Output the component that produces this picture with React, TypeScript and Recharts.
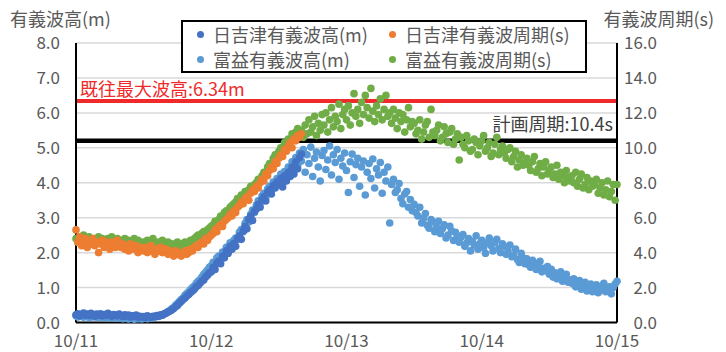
import React from "react";
import {
  ScatterChart,
  Scatter,
  XAxis,
  YAxis,
  CartesianGrid,
  ReferenceLine,
} from "recharts";

// 観測値 (20分間隔, 10/11 0時起点の経過時間 h)
const STEP_H = 1 / 3;

// 日吉津 有義波高 (m)  10/11 0:00 〜 10/12 16:00
const hiyoshizuHeight = [
  0.22, 0.25, 0.19, 0.23, 0.27, 0.21, 0.24, 0.2, 0.26, 0.22, 0.18, 0.24,
  0.21, 0.25, 0.19, 0.23, 0.2, 0.26, 0.22, 0.18, 0.23, 0.21, 0.19, 0.24,
  0.2, 0.17, 0.22, 0.18, 0.21, 0.16, 0.19, 0.17, 0.21, 0.15, 0.18, 0.16,
  0.17, 0.14, 0.19, 0.16, 0.15, 0.18, 0.17, 0.2, 0.18, 0.22, 0.21, 0.25,
  0.27, 0.3, 0.33, 0.36, 0.4, 0.45, 0.49, 0.55, 0.6, 0.66, 0.7, 0.76,
  0.8, 0.86, 0.9, 0.95, 1.02, 1.06, 1.12, 1.18, 1.22, 1.3, 1.35, 1.42,
  1.45, 1.58, 1.52, 1.7, 1.75, 1.68, 1.9, 1.85, 2.05, 1.98, 2.18, 2.1,
  2.26, 2.18, 2.4, 2.48, 2.38, 2.62, 2.75, 2.68, 2.95, 3.05, 2.92, 3.18,
  3.25, 3.38, 3.3, 3.52, 3.6, 3.48, 3.72, 3.8, 3.68, 3.92, 3.85, 4.02,
  3.96, 4.12, 3.88, 4.2, 4.05, 4.3, 4.18, 4.45, 4.25, 4.6, 4.4, 4.72,
  4.82,
];

// 日吉津 有義波周期 (s)
const hiyoshizuPeriod = [
  5.3, 4.6, 4.9, 4.4, 4.7, 4.8, 4.3, 4.6, 4.5, 4.8, 4.4, 4.6,
  4.0, 4.5, 4.7, 4.3, 4.6, 4.4, 4.2, 4.6, 4.5, 4.3, 4.7, 4.4,
  4.3, 4.5, 4.2, 4.4, 4.1, 4.5, 4.3, 4.2, 4.4, 4.0, 4.3, 4.2,
  4.1, 4.3, 4.0, 4.2, 4.4, 4.1, 3.9, 4.2, 4.1, 4.3, 4.0, 4.1,
  4.2, 3.9, 4.1, 4.0, 3.8, 4.1, 3.9, 4.0, 3.8, 3.9, 4.1, 3.9,
  4.0, 4.2, 4.1, 4.3, 4.4, 4.3, 4.5, 4.6, 4.5, 4.8, 4.7, 4.9,
  5.0, 5.1, 5.3, 5.2, 5.5, 5.6, 5.5, 5.8, 5.9, 6.0, 6.2, 6.1,
  6.4, 6.3, 6.6, 6.7, 6.9, 6.8, 7.1, 7.2, 7.0, 7.4, 7.6, 7.5,
  7.8, 7.7, 8.0, 8.2, 8.1, 8.5, 8.4, 8.7, 8.9, 8.8, 9.2, 9.1,
  9.4, 9.6, 9.5, 9.9, 9.8, 10.1, 10.3, 10.0, 10.5, 10.4, 10.7, 10.6,
  10.8,
];

// 富益 有義波高 (m)  10/11 0:00 〜 10/15 0:00
const tomimasuHeight = [
  0.19, 0.16, 0.21, 0.18, 0.15, 0.2, 0.17, 0.14, 0.19, 0.16, 0.18, 0.15,
  0.17, 0.14, 0.19, 0.15, 0.18, 0.13, 0.16, 0.14, 0.17, 0.12, 0.15, 0.13,
  0.14, 0.11, 0.15, 0.12, 0.1, 0.14, 0.12, 0.09, 0.13, 0.11, 0.14, 0.1,
  0.12, 0.15, 0.11, 0.14, 0.13, 0.16, 0.15, 0.18, 0.17, 0.2, 0.22, 0.24,
  0.27, 0.31, 0.34, 0.39, 0.43, 0.49, 0.54, 0.6, 0.66, 0.7, 0.78, 0.83,
  0.88, 0.94, 1.0, 1.04, 1.12, 1.18, 1.22, 1.3, 1.38, 1.44, 1.5, 1.58,
  1.62, 1.72, 1.68, 1.85, 1.9, 1.84, 2.02, 1.98, 2.15, 2.12, 2.28, 2.22,
  2.35, 2.42, 2.38, 2.58, 2.66, 2.6, 2.84, 2.95, 2.88, 3.1, 3.22, 3.15,
  3.36, 3.48, 3.4, 3.62, 3.7, 3.58, 3.82, 3.9, 3.78, 4.02, 3.95, 4.12,
  4.08, 4.25, 3.98, 4.32, 4.18, 4.45, 4.28, 4.6, 4.38, 4.72, 4.5, 4.85,
  4.62, 4.95, 4.3, 4.8, 4.55, 5.02, 4.18, 4.7, 4.88, 4.45, 4.05, 4.78,
  4.92, 4.38, 4.65, 5.05, 4.22, 4.8, 4.58, 4.95, 4.1, 4.7, 4.48, 4.85,
  4.35, 3.72, 4.6, 4.82, 4.15, 4.52, 4.7, 3.9, 4.45, 4.62, 3.65, 4.3,
  4.55, 4.12, 4.68, 3.85, 4.4, 4.22, 4.58, 3.7, 4.3, 4.05, 4.45, 2.85,
  3.95, 4.1, 3.72, 3.8, 3.98, 3.55, 3.4, 3.68, 3.75, 3.3, 3.52, 3.2,
  3.38, 3.15, 3.05, 3.3, 2.85, 2.98, 3.12, 2.78, 2.7, 2.95, 2.88, 2.6,
  2.72, 2.9, 2.55, 2.68, 2.8, 2.42, 2.5, 2.75, 2.62, 2.35, 2.58, 2.48,
  2.3, 2.45, 2.52, 2.18, 2.28, 2.4, 2.05, 2.32, 2.22, 2.48, 2.1, 2.26,
  2.35, 2.15, 1.98, 2.28, 2.42, 2.2, 2.05, 2.3, 2.38, 2.12, 2.0, 2.25,
  2.18, 1.95, 2.05, 2.22, 1.88, 1.92, 2.1, 1.8, 1.72, 1.98, 1.85, 1.68,
  1.82, 1.65, 1.58, 1.78, 1.7, 1.52, 1.62, 1.75, 1.45, 1.55, 1.48, 1.6,
  1.38, 1.52, 1.3, 1.42, 1.25, 1.35, 1.45, 1.18, 1.28, 1.38, 1.15, 1.22,
  1.12, 1.25, 1.02, 1.08, 1.2, 0.95, 1.05, 1.15, 0.9, 1.0, 1.1, 0.88,
  0.98, 1.08, 0.85, 0.92, 1.05, 1.12, 0.88, 0.95, 1.02, 0.82, 1.0, 1.1,
  1.18,
];

// 富益 有義波周期 (s)
const tomimasuPeriod = [
  4.8, 4.6, 4.9, 4.7, 5.0, 4.6, 4.8, 4.9, 4.7, 4.5, 4.8, 4.7,
  4.9, 4.6, 4.8, 4.7, 4.5, 4.8, 4.6, 4.9, 4.7, 4.6, 4.8, 4.5,
  4.7, 4.6, 4.8, 4.5, 4.7, 4.4, 4.6, 4.8, 4.5, 4.7, 4.6, 4.4,
  4.6, 4.5, 4.7, 4.4, 4.6, 4.8, 4.5, 4.3, 4.6, 4.4, 4.7, 4.5,
  4.3, 4.6, 4.4, 4.5, 4.2, 4.4, 4.6, 4.3, 4.5, 4.4, 4.6, 4.5,
  4.6, 4.7, 4.6, 4.8, 4.9, 5.0, 4.9, 5.1, 5.2, 5.1, 5.3, 5.4,
  5.5, 5.6, 5.8, 5.7, 5.9, 6.1, 6.0, 6.3, 6.4, 6.3, 6.6, 6.7,
  6.8, 6.9, 7.1, 7.0, 7.3, 7.2, 7.5, 7.4, 7.6, 7.8, 7.7, 7.9,
  8.0, 8.2, 8.1, 8.4, 8.6, 8.5, 8.9, 9.1, 9.0, 9.4, 9.6, 9.5,
  9.8, 10.0, 9.9, 10.3, 10.2, 10.5, 10.4, 10.8, 10.6, 10.9, 11.1, 10.7,
  11.0, 10.6, 11.3, 10.8, 11.6, 10.9, 11.2, 11.8, 10.7, 11.4, 11.0, 11.9,
  11.3, 12.0, 10.9, 11.6, 12.3, 11.2, 11.8, 11.5, 12.5, 11.1, 11.9, 12.2,
  11.6, 12.4, 11.3, 12.0, 13.1, 11.8, 12.2, 11.4, 12.6, 11.9, 13.0, 12.3,
  11.7, 13.4, 12.1, 11.5, 12.4, 11.9, 12.8, 11.6, 12.2, 13.0, 11.8, 12.0,
  11.4, 12.2, 11.7, 11.1, 12.0, 11.5, 11.9, 10.9, 11.6, 12.3, 11.2, 11.5,
  11.4, 10.8, 11.0, 11.6, 10.5, 10.9, 11.3, 11.5, 10.6, 12.2, 10.9, 10.7,
  11.0, 11.3, 10.4, 10.6, 11.2, 10.8, 10.3, 10.9, 11.1, 10.2, 10.5, 10.8,
  9.3, 10.6, 10.2, 10.0, 10.7, 10.4, 9.8, 9.9, 10.5, 10.3, 9.6, 10.1,
  10.4, 10.7, 9.8, 10.0, 10.3, 9.5, 9.7, 10.2, 10.6, 9.6, 9.9, 10.1,
  9.7, 9.4, 9.9, 10.0, 9.2, 9.5, 9.8, 8.9, 9.3, 9.6, 9.0, 9.1,
  9.4, 9.0, 8.7, 9.2, 9.5, 8.6, 8.8, 9.1, 8.4, 8.9, 9.2, 8.5,
  8.7, 8.9, 8.3, 8.5, 9.0, 8.2, 8.6, 8.4, 8.0, 8.7, 8.3, 8.1,
  8.4, 8.0, 8.6, 7.8, 8.2, 8.5, 7.7, 7.9, 8.3, 7.6, 8.1, 7.8,
  7.9, 8.2, 7.4, 7.7, 8.0, 7.3, 7.6, 8.1, 7.2, 7.5, 7.9, 7.0,
  7.9,
];

const dayTicks = [0, 24, 48, 72, 96];
const dayLabels = ["10/11", "10/12", "10/13", "10/14", "10/15"];
const heightTicks = [0, 1, 2, 3, 4, 5, 6, 7, 8];
const periodTicks = [0, 2, 4, 6, 8, 10, 12, 14, 16];

const MAX_HEIGHT = 6.34;
const DESIGN_PERIOD = 10.4;

const COLORS = {
  hiyoshizuHeight: "#4472C4",
  hiyoshizuPeriod: "#ED7D31",
  tomimasuHeight: "#5B9BD5",
  tomimasuPeriod: "#70AD47",
};

const legendItems = [
  { name: "日吉津有義波高(m)", color: COLORS.hiyoshizuHeight },
  { name: "日吉津有義波周期(s)", color: COLORS.hiyoshizuPeriod },
  { name: "富益有義波高(m)", color: COLORS.tomimasuHeight },
  { name: "富益有義波周期(s)", color: COLORS.tomimasuPeriod },
];

const FONT = '"Noto Sans CJK JP", "Noto Sans", sans-serif';
const TEXT = "#595959";

const toPoints = (values: number[]) =>
  values.map((v, i) => ({ h: i * STEP_H, v }));

const dot = (color: string) => (props: any) =>
  <circle cx={props.cx} cy={props.cy} r={3.8} fill={color} />;

const RightTick = ({ x, y, payload }: any) => (
  <text x={x + 40} y={y} dy="0.355em" textAnchor="end" fill={TEXT} fontSize={17} fontFamily={FONT}>
    {Number(payload.value).toFixed(1)}
  </text>
);

const RefText = ({ viewBox, text, fill, right }: any) => {
  const { x, y, width } = viewBox;
  return (
    <text
      x={right ? x + width - 4 : x + 4}
      y={right ? y - 10 : y - 5}
      textAnchor={right ? "end" : "start"}
      fill={fill}
      fontSize={18}
      fontFamily={FONT}
    >
      {text}
    </text>
  );
};

export default function App() {
  return (
    <div style={{ position: "absolute", left: 0, top: 0, width: 726, height: 352, background: "#fff", fontFamily: FONT }}>
      <ScatterChart width={726} height={352} margin={{ top: 43, right: 0, bottom: 0, left: 0 }}>
        <CartesianGrid yAxisId="left" stroke="#D9D9D9" strokeWidth={1.5} />
        <XAxis
          xAxisId="bottom"
          dataKey="h"
          type="number"
          domain={[0, 96]}
          ticks={dayTicks}
          interval={0}
          height={29.5}
          tickLine={false}
          tickSize={0}
          tickMargin={12}
          axisLine={{ stroke: "#000", strokeWidth: 2 }}
          tickFormatter={(v: number) => dayLabels[dayTicks.indexOf(v)]}
          tick={{ fill: TEXT, fontSize: 17, fontFamily: FONT }}
        />
        <XAxis
          xAxisId="top"
          orientation="top"
          dataKey="h"
          type="number"
          domain={[0, 96]}
          height={0}
          tick={false}
          tickLine={false}
          axisLine={{ stroke: "#000", strokeWidth: 2 }}
        />
        <YAxis
          yAxisId="left"
          dataKey="v"
          type="number"
          domain={[0, 8]}
          ticks={heightTicks}
          width={76}
          tickLine={false}
          tickSize={0}
          tickMargin={16}
          axisLine={{ stroke: "#000", strokeWidth: 2 }}
          tickFormatter={(v: number) => v.toFixed(1)}
          tick={{ fill: TEXT, fontSize: 17, fontFamily: FONT }}
        />
        <YAxis
          yAxisId="right"
          orientation="right"
          dataKey="v"
          type="number"
          domain={[0, 16]}
          ticks={periodTicks}
          width={109}
          tickLine={false}
          tickSize={0}
          tickMargin={0}
          axisLine={{ stroke: "#000", strokeWidth: 2 }}
          tick={<RightTick />}
        />

        <Scatter
          name="富益有義波高(m)"
          xAxisId="bottom"
          yAxisId="left"
          data={toPoints(tomimasuHeight)}
          shape={dot(COLORS.tomimasuHeight)}
          isAnimationActive={false}
        />
        <Scatter
          name="富益有義波周期(s)"
          xAxisId="bottom"
          yAxisId="right"
          data={toPoints(tomimasuPeriod)}
          shape={dot(COLORS.tomimasuPeriod)}
          isAnimationActive={false}
        />
        <Scatter
          name="日吉津有義波高(m)"
          xAxisId="bottom"
          yAxisId="left"
          data={toPoints(hiyoshizuHeight)}
          shape={dot(COLORS.hiyoshizuHeight)}
          isAnimationActive={false}
        />
        <Scatter
          name="日吉津有義波周期(s)"
          xAxisId="bottom"
          yAxisId="right"
          data={toPoints(hiyoshizuPeriod)}
          shape={dot(COLORS.hiyoshizuPeriod)}
          isAnimationActive={false}
        />

        <ReferenceLine
          xAxisId="bottom"
          yAxisId="left"
          y={MAX_HEIGHT}
          stroke="#F02A2A"
          strokeWidth={4}
          label={{ content: (p: any) => <RefText {...p} text={`既往最大波高:${MAX_HEIGHT}m`} fill="#F02A2A" /> }}
        />
        <ReferenceLine
          xAxisId="bottom"
          yAxisId="right"
          y={DESIGN_PERIOD}
          stroke="#000"
          strokeWidth={4.5}
          label={{ content: (p: any) => <RefText {...p} text={`計画周期:${DESIGN_PERIOD}s`} fill="#404040" right /> }}
        />
      </ScatterChart>

      {/* 軸タイトル */}
      <div style={{ position: "absolute", left: 10, top: 6, fontSize: 18, color: TEXT, lineHeight: "24px" }}>
        有義波高(m)
      </div>
      <div style={{ position: "absolute", right: 12, top: 6, fontSize: 18, color: TEXT, lineHeight: "24px" }}>
        有義波周期(s)
      </div>

      {/* 凡例 */}
      <div
        style={{
          position: "absolute",
          left: 181,
          top: 20,
          width: 402,
          height: 49,
          border: "2px solid #000",
          background: "#fff",
          display: "grid",
          gridTemplateColumns: "192px 1fr",
          alignContent: "center",
        }}
      >
        {legendItems.map((item) => (
          <div key={item.name} style={{ display: "flex", alignItems: "center", fontSize: 18, color: TEXT, lineHeight: "25px", whiteSpace: "nowrap" }}>
            <span
              style={{
                display: "inline-block",
                width: 7,
                height: 7,
                borderRadius: "50%",
                background: item.color,
                marginLeft: 14,
                marginRight: 9,
              }}
            />
            {item.name}
          </div>
        ))}
      </div>
    </div>
  );
}
